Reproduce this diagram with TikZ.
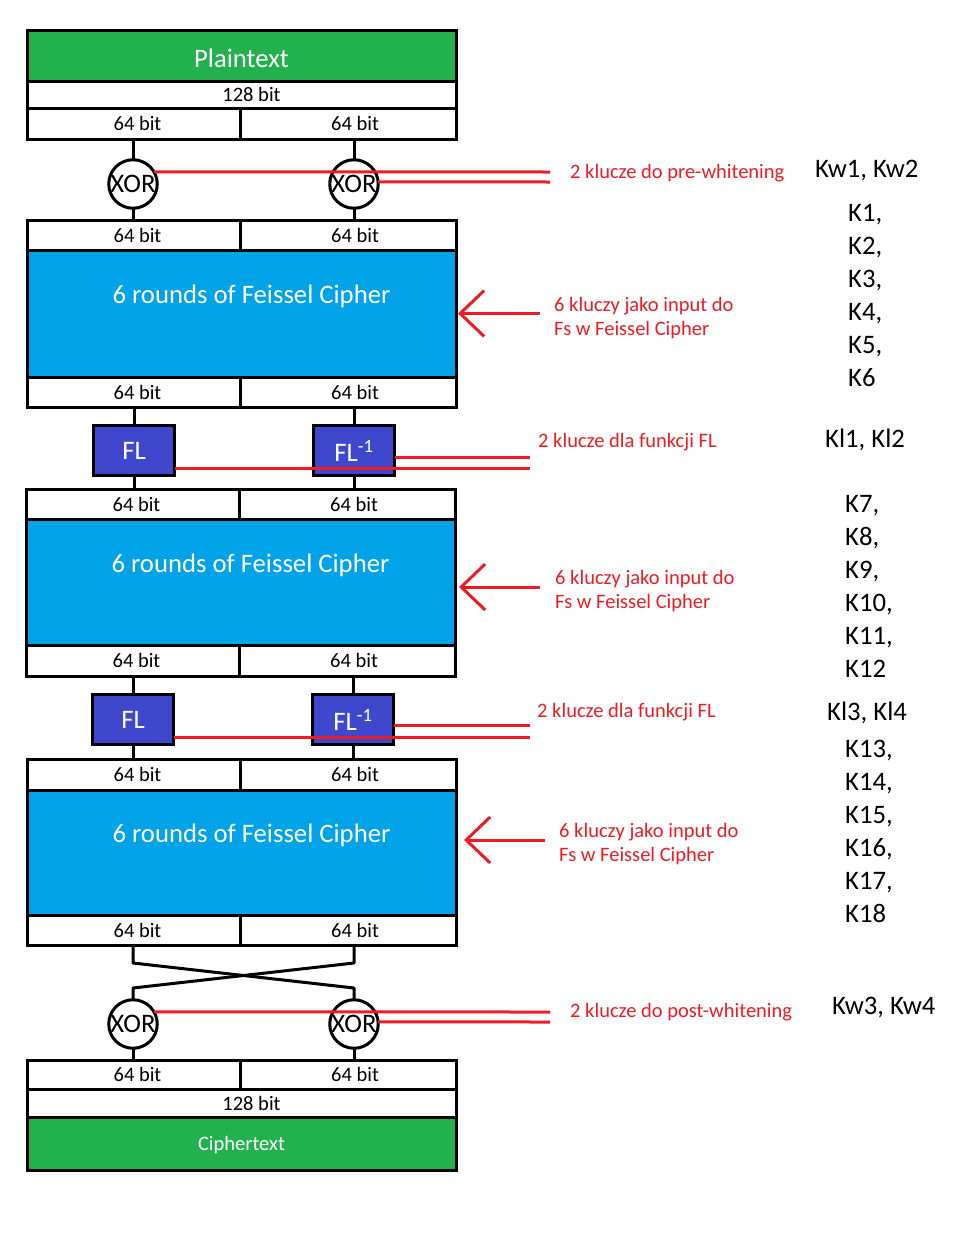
\documentclass[tikz,border=0pt]{standalone}
\usepackage{fontspec}
\setmainfont{Carlito}
\usetikzlibrary{arrows.meta}
\definecolor{cgreen}{HTML}{22B14C}
\definecolor{cblue}{HTML}{00A2E8}
\definecolor{cindigo}{HTML}{3F48CC}
\definecolor{cred}{HTML}{ED1C24}
\newcommand\myfs[1]{\fontsize{#1}{#1}\selectfont}
\newcommand\lbit{\hspace*{8pt}64 bit}
\newcommand\rbit{\hspace*{14pt}64 bit}
\begin{document}
\begin{tikzpicture}[x=1pt,y=-1pt,
  cell/.style={draw, fill=white, line width=3pt, inner sep=0pt, outer sep=0pt, font=\myfs{20.5}, text height=14pt, text depth=0pt},
  greenbox/.style={draw, fill=cgreen, line width=3pt, inner sep=0pt, outer sep=0pt, text=white, minimum width=429pt},
  bluebox/.style={draw, fill=cblue, line width=3pt, inner sep=0pt, outer sep=0pt, text=white, font=\myfs{26.7}, minimum width=429pt, text height=18pt, text depth=38pt},
  xorc/.style={circle, draw, fill=white, line width=3pt, minimum size=48pt, inner sep=0pt, outer sep=0pt, font=\myfs{26.7}},
  flbox/.style={draw, fill=cindigo, line width=3pt, minimum width=81pt, minimum height=50pt, inner sep=0pt, outer sep=0pt, text=white, font=\myfs{26.7}},
  wire/.style={draw, line width=3pt},
  keyline/.style={draw=cred, line width=3pt},
  keyarrow/.style={draw=cred, line width=3pt, -{Straight Barb[length=24pt,width=46pt]}},
  redtxt/.style={text=cred, font=\fontsize{20.5}{24}\selectfont, anchor=west, align=left, inner sep=0pt},
  keytxt/.style={font=\myfs{26.7}, anchor=west, align=left, inner sep=0pt},
  keylist/.style={font=\fontsize{26.7}{33}\selectfont, anchor=west, align=left, inner sep=0pt}
]
\useasboundingbox (0,0) rectangle (953,1234);

% ---- block 1
\node[greenbox, minimum height=51pt, font=\myfs{26.7}, text height=24pt, text depth=0pt] (plain) at (241.5,55.5) {Plaintext};
\node[cell, minimum width=429pt, minimum height=27pt] (b128a) at (241.5,94.5) {\hspace*{20pt}128 bit};
\node[cell, minimum width=213pt, minimum height=31pt] (l1) at (133.5,123.5) {\lbit};
\node[cell, minimum width=216pt, minimum height=31pt] (r1) at (348,123.5) {\rbit};

\node[xorc] (x1l) at (133,184) {XOR};
\node[xorc] (x1r) at (354,184) {XOR};

% ---- block 2
\node[cell, minimum width=213pt, minimum height=30pt] (l2a) at (133.5,235) {\lbit};
\node[cell, minimum width=216pt, minimum height=30pt] (r2a) at (348,235) {\rbit};
\node[bluebox, minimum height=127pt] (blue2) at (241.5,313.5) {\hspace*{20pt}6 rounds of Feissel Cipher};
\node[cell, minimum width=213pt, minimum height=30pt] (l2b) at (133.5,392) {\lbit};
\node[cell, minimum width=216pt, minimum height=30pt] (r2b) at (348,392) {\rbit};

\node[flbox] (fl1l) at (134,450.5) {FL};
\node[flbox] (fl1r) at (354,450.5) {FL\textsuperscript{-1}};

% ---- block 3
\node[cell, minimum width=213pt, minimum height=30pt] (l3a) at (132.5,504.5) {\lbit};
\node[cell, minimum width=216pt, minimum height=30pt] (r3a) at (347,504.5) {\rbit};
\node[bluebox, minimum height=126pt] (blue3) at (240.5,582.5) {\hspace*{20pt}6 rounds of Feissel Cipher};
\node[cell, minimum width=213pt, minimum height=30.5pt] (l3b) at (132.5,660.75) {\lbit};
\node[cell, minimum width=216pt, minimum height=30.5pt] (r3b) at (347,660.75) {\rbit};

\node[flbox] (fl2l) at (133,719.5) {FL};
\node[flbox] (fl2r) at (353,719.5) {FL\textsuperscript{-1}};

% ---- block 4
\node[cell, minimum width=213pt, minimum height=30.5pt] (l4a) at (133.5,774.75) {\lbit};
\node[cell, minimum width=216pt, minimum height=30.5pt] (r4a) at (348,774.75) {\rbit};
\node[bluebox, minimum height=125pt] (blue4) at (241.5,852.5) {\hspace*{20pt}6 rounds of Feissel Cipher};
\node[cell, minimum width=213pt, minimum height=30pt] (l4b) at (133.5,930) {\lbit};
\node[cell, minimum width=216pt, minimum height=30pt] (r4b) at (348,930) {\rbit};

\node[xorc] (x2l) at (133,1024) {XOR};
\node[xorc] (x2r) at (354,1024) {XOR};

% ---- block 5
\node[cell, minimum width=213pt, minimum height=29pt] (l5) at (133.5,1074.5) {\lbit};
\node[cell, minimum width=216pt, minimum height=29pt] (r5) at (348,1074.5) {\rbit};
\node[cell, minimum width=429pt, minimum height=28pt] (b128b) at (241.5,1103) {\hspace*{20pt}128 bit};
\node[greenbox, minimum height=53pt, font=\myfs{20.5}, text height=14pt, text depth=0pt] (cipher) at (241.5,1143.5) {Ciphertext};

% ---- black wires
\draw[wire] (x1l |- l1.south) -- (x1l.north);
\draw[wire] (x1r |- r1.south) -- (x1r.north);
\draw[wire] (x1l.south) -- (x1l |- l2a.north);
\draw[wire] (x1r.south) -- (x1r |- r2a.north);
\draw[wire] (fl1l |- l2b.south) -- (fl1l.north);
\draw[wire] (fl1r |- r2b.south) -- (fl1r.north);
\draw[wire] (fl1l.south) -- (fl1l |- l3a.north);
\draw[wire] (fl1r.south) -- (fl1r |- r3a.north);
\draw[wire] (fl2l |- l3b.south) -- (fl2l.north);
\draw[wire] (fl2r |- r3b.south) -- (fl2r.north);
\draw[wire] (fl2l.south) -- (fl2l |- l4a.north);
\draw[wire] (fl2r.south) -- (fl2r |- r4a.north);
\coordinate (cA) at (0,963);
\coordinate (cB) at (0,988);
\draw[wire, line join=round] (x2l |- l4b.south) -- (x2l |- cA) -- (x2r |- cB) -- (x2r.north);
\draw[wire, line join=round] (x2r |- r4b.south) -- (x2r |- cA) -- (x2l |- cB) -- (x2l.north);
\draw[wire] (x2l.south) -- (x2l |- l5.north);
\draw[wire] (x2r.south) -- (x2r |- r5.north);

% ---- red key lines
\coordinate (k1a) at (550,172);
\coordinate (k1b) at (550,182);
\draw[keyline] (x1l.30) -- (k1a);
\draw[keyline] (x1r.5) -- (k1b);
\coordinate (f1a) at (530,457);
\coordinate (f1b) at (530,468);
\draw[keyline] (fl1r.east |- f1a) -- (f1a);
\draw[keyline] (fl1l.east |- f1b) -- (f1b);
\coordinate (f2a) at (530,725);
\coordinate (f2b) at (530,737);
\draw[keyline] (fl2r.east |- f2a) -- (f2a);
\draw[keyline] (fl2l.east |- f2b) -- (f2b);
\coordinate (k2a) at (550,1012);
\coordinate (k2b) at (550,1022);
\draw[keyline] (x2l.30) -- (k2a);
\draw[keyline] (x2r.5) -- (k2b);

% ---- red arrows
\coordinate (a1) at (540,313.5);
\coordinate (a2) at (540,587);
\coordinate (a3) at (545,840);
\draw[keyarrow] (a1) -- ([xshift=2pt]blue2.east |- a1);
\draw[keyarrow] (a2) -- ([xshift=4pt]blue3.east |- a2);
\draw[keyarrow] (a3) -- ([xshift=8pt]blue4.east |- a3);

% ---- red texts
\node[redtxt] (t1) at (570,173) {2 klucze do pre-whitening};
\node[redtxt] (t2) at (554,318) {6 kluczy jako input do\\Fs w Feissel Cipher};
\node[redtxt] (t3) at (538,442) {2 klucze dla funkcji FL};
\node[redtxt] (t4) at (555,591) {6 kluczy jako input do\\Fs w Feissel Cipher};
\node[redtxt] (t5) at (537,712) {2 klucze dla funkcji FL};
\node[redtxt] (t6) at (559,844) {6 kluczy jako input do\\Fs w Feissel Cipher};
\node[redtxt] (t7) at (570,1012) {2 klucze do post-whitening};

% ---- key names
\node[keytxt] (kw12) at (815,171) {Kw1, Kw2};
\node[keylist] (k1to6) at (848,296) {K1,\\K2,\\K3,\\K4,\\K5,\\K6};
\node[keytxt] (kl12) at (825,440) {Kl1, Kl2};
\node[keylist] (k7to12) at (845,586) {K7,\\K8,\\K9,\\K10,\\K11,\\K12};
\node[keytxt] (kl34) at (827,713) {Kl3, Kl4};
\node[keylist] (k13to18) at (845,831) {K13,\\K14,\\K15,\\K16,\\K17,\\K18};
\node[keytxt] (kw34) at (832,1008) {Kw3, Kw4};
\end{tikzpicture}
\end{document}
